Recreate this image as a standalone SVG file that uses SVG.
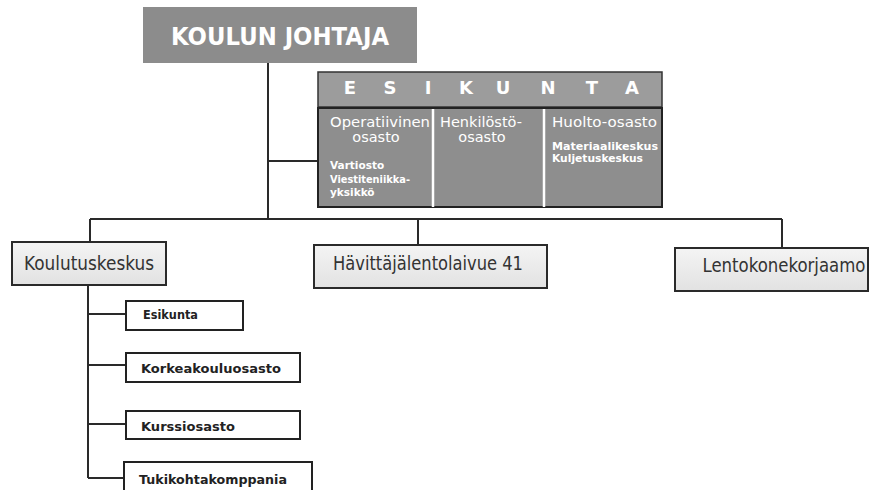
<svg xmlns="http://www.w3.org/2000/svg" width="873" height="490" viewBox="0 0 873 490">
<defs>
<linearGradient id="lg" x1="0" y1="0" x2="0" y2="1">
<stop offset="0" stop-color="#f4f4f4"/>
<stop offset="1" stop-color="#e2e2e2"/>
</linearGradient>
<style>
.ln{stroke:#2a2a2a;stroke-width:2;fill:none}
.box{fill:url(#lg);stroke:#2a2a2a;stroke-width:2}
.sub{fill:#fff;stroke:#222;stroke-width:2}
.t1{font-family:"DejaVu Sans Condensed","DejaVu Sans",sans-serif;font-size:19px;fill:#333}
.t2{font-family:"DejaVu Sans",sans-serif;font-size:12.5px;font-weight:bold;fill:#222}
.w{font-family:"DejaVu Sans",sans-serif;fill:#fff}
</style>
</defs>
<rect width="873" height="490" fill="#fff"/>
<g id="connectors">
<path class="ln" d="M268 63V219M268 161H318M90 219H782M90 219V242M418 219V245M782 219V248"/>
<path class="ln" d="M88 286V478M88 314H126M88 365H126M88 424H126M88 478H124"/>
</g>
<g id="koulun-johtaja">
<rect x="143" y="7" width="274" height="56" fill="#8c8c8c"/>
<text x="280" y="45" text-anchor="middle" class="w" font-size="24" font-weight="bold" textLength="218" lengthAdjust="spacingAndGlyphs">KOULUN JOHTAJA</text>
</g>
<g id="esikunta">
<rect x="318" y="72" width="344" height="35" fill="#9c9c9c" stroke="#333" stroke-width="1.5"/>
<g class="w" font-size="18" font-weight="bold" text-anchor="middle">
<text x="350" y="94">E</text><text x="390" y="94">S</text><text x="428" y="94">I</text><text x="466" y="94">K</text><text x="503" y="94">U</text><text x="548" y="94">N</text><text x="592" y="94">T</text><text x="632" y="94">A</text>
</g>
<rect x="318" y="108" width="344" height="99" fill="#8e8e8e" stroke="#222" stroke-width="2"/>
<path d="M433 109V207M544 109V207" stroke="#fff" stroke-width="2.5"/>
</g>
<g id="operatiivinen-osasto">
<text x="330" y="127" class="w" font-size="14.5" textLength="100" lengthAdjust="spacingAndGlyphs">Operatiivinen</text>
<text x="376" y="142" class="w" font-size="14.5" text-anchor="middle">osasto</text>
<g class="w" font-size="10.5" font-weight="bold">
<text x="330" y="169">Vartiosto</text>
<text x="330" y="183" textLength="80" lengthAdjust="spacingAndGlyphs">Viestiteniikka-</text>
<text x="330" y="196">yksikkö</text>
</g>
</g>
<g id="henkilosto-osasto">
<text x="440" y="127" class="w" font-size="14.5" textLength="82" lengthAdjust="spacingAndGlyphs">Henkilöstö-</text>
<text x="482" y="142" class="w" font-size="14.5" text-anchor="middle">osasto</text>
</g>
<g id="huolto-osasto">
<text x="552" y="127" class="w" font-size="14.5" textLength="105" lengthAdjust="spacingAndGlyphs">Huolto-osasto</text>
<g class="w" font-size="10.5" font-weight="bold">
<text x="552" y="150" textLength="106" lengthAdjust="spacingAndGlyphs">Materiaalikeskus</text>
<text x="552" y="162" textLength="91" lengthAdjust="spacingAndGlyphs">Kuljetuskeskus</text>
</g>
</g>
<g id="koulutuskeskus">
<rect x="12" y="242" width="154" height="43" class="box"/>
<text x="89" y="270" class="t1" text-anchor="middle" textLength="130" lengthAdjust="spacingAndGlyphs">Koulutuskeskus</text>
</g>
<g id="havittajalentolaivue">
<rect x="314" y="245" width="233" height="43" class="box"/>
<text x="428" y="270" class="t1" text-anchor="middle" textLength="190" lengthAdjust="spacingAndGlyphs">Hävittäjälentolaivue 41</text>
</g>
<g id="lentokonekorjaamo">
<rect x="675" y="248" width="193" height="43" class="box"/>
<text x="784" y="272" class="t1" text-anchor="middle" textLength="163" lengthAdjust="spacingAndGlyphs">Lentokonekorjaamo</text>
</g>
<g id="sub-esikunta">
<rect x="126" y="301" width="117" height="29" class="sub"/>
<text x="143" y="319" class="t2" font-size="11.5" textLength="55" lengthAdjust="spacingAndGlyphs">Esikunta</text>
</g>
<g id="korkeakouluosasto">
<rect x="126" y="353" width="174" height="29" class="sub"/>
<text x="141" y="373" class="t2" font-size="13" textLength="140" lengthAdjust="spacingAndGlyphs">Korkeakouluosasto</text>
</g>
<g id="kurssiosasto">
<rect x="126" y="411" width="174" height="28" class="sub"/>
<text x="141" y="431" class="t2" font-size="13" textLength="94" lengthAdjust="spacingAndGlyphs">Kurssiosasto</text>
</g>
<g id="tukikohtakomppania">
<rect x="124" y="462" width="188" height="34" class="sub"/>
<text x="139" y="484" class="t2" font-size="13" textLength="148" lengthAdjust="spacingAndGlyphs">Tukikohtakomppania</text>
</g>
</svg>
